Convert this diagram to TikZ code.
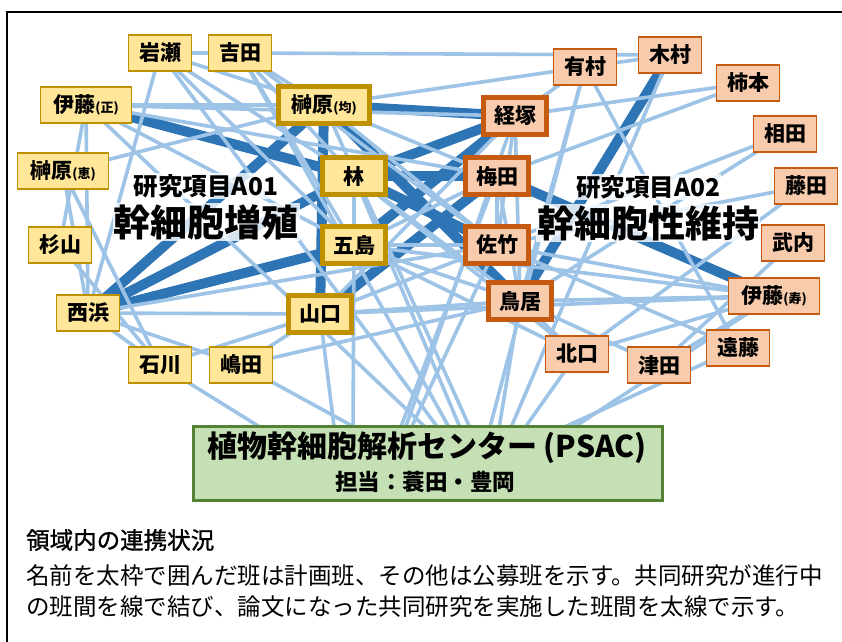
\documentclass[tikz,border=0pt]{standalone}
\usepackage{fontspec}
\newfontfamily\jp{Noto Sans CJK JP}
\newfontfamily\jpfake{Noto Sans CJK JP}[FakeBold=1.2]
\usetikzlibrary{calc}
\pgfdeclarelayer{edges}
\pgfdeclarelayer{halo}
\pgfsetlayers{edges,halo,main}
\definecolor{yfill}{HTML}{FFE699}
\definecolor{ydraw}{HTML}{BF9000}
\definecolor{ofill}{HTML}{F8CBAD}
\definecolor{odraw}{HTML}{C55A11}
\definecolor{gfill}{HTML}{C5E0B4}
\definecolor{gdraw}{HTML}{548235}
\definecolor{thinc}{HTML}{9DC3E6}
\definecolor{thickc}{HTML}{2E75B6}
\tikzset{
  box/.style={line width=1.8pt, minimum width=63pt, minimum height=36pt, inner sep=0pt,
    font=\jp\bfseries\fontsize{21}{21}\selectfont},
  aone/.style={box, draw=ydraw, fill=yfill},
  atwo/.style={box, draw=odraw, fill=ofill},
  plan/.style={line width=5pt, minimum width=63pt, minimum height=37pt},
  wide/.style={minimum width=91pt},
  thinedge/.style={draw=thinc, line width=3.6pt},
  thickedge/.style={draw=thickc, line width=10pt},
  lab/.style={fill=white, fill opacity=0.8, text opacity=1, inner sep=1pt}
}
\newcommand{\paren}[1]{{\fontsize{13}{13}\selectfont(#1)}}
\begin{document}
\begin{tikzpicture}[x=1pt,y=-1pt]
\useasboundingbox (0,0) rectangle (842,641);
\clip (0,0) rectangle (842,641);
\draw[line width=2.6pt] (7,700) -- (7,12) -- (900,12);

% A01 nodes
\node[aone] (iw) at (160,53) {岩瀬};
\node[aone] (yo) at (240,53) {吉田};
\node[aone,wide] (itm) at (86,105) {伊藤\paren{正}};
\node[aone,plan,wide] (skh) at (324,105) {榊原\paren{均}};
\node[aone,wide] (ske) at (63,171) {榊原\paren{恵}};
\node[aone,plan] (hy) at (354,176) {林};
\node[aone] (sg) at (60,245) {杉山};
\node[aone,plan] (gt) at (354,245) {五島};
\node[aone] (nh) at (88,313) {西浜};
\node[aone,plan] (ym) at (320,314) {山口};
\node[aone] (ik) at (160,365) {石川};
\node[aone] (sm) at (241,365) {嶋田};

% A02 nodes
\node[atwo] (ar) at (585,67) {有村};
\node[atwo] (km) at (670,55) {木村};
\node[atwo] (kk) at (748,83) {柿本};
\node[atwo,plan] (kt) at (515,116) {経塚};
\node[atwo] (ai) at (785,134) {相田};
\node[atwo,plan] (um) at (497,176) {梅田};
\node[atwo] (fj) at (806,186) {藤田};
\node[atwo,plan] (st) at (497,245) {佐竹};
\node[atwo] (tk) at (793,243) {武内};
\node[atwo,plan] (tr) at (520,301) {鳥居};
\node[atwo,wide] (itj) at (774,296) {伊藤\paren{寿}};
\node[atwo] (kg) at (577,354) {北口};
\node[atwo] (td) at (659,365) {津田};
\node[atwo] (en) at (738,348) {遠藤};

% PSAC
\node[draw=gdraw, fill=gfill, line width=3pt, minimum width=469pt, minimum height=74pt] (ps) at (428,463) {};
\node[font=\jp\bfseries\fontsize{30}{30}\selectfont, inner sep=0pt] (pst) at (427,448) {植物幹細胞解析センター (PSAC)};
\node[font=\jp\bfseries\fontsize{22.5}{22.5}\selectfont, inner sep=0pt] (pss) at (425,482) {担当：蓑田・豊岡};

% labels
\begin{pgfonlayer}{halo}
\node[lab, font=\jp\bfseries\fontsize{24.5}{24.5}\selectfont] (la1) at (206,186) {研究項目A01};
\node[lab, font=\jp\bfseries\fontsize{37}{37}\selectfont] (lb1) at (206,222) {幹細胞増殖};
\node[lab, font=\jp\bfseries\fontsize{24.5}{24.5}\selectfont] (la2) at (648,187) {研究項目A02};
\node[lab, font=\jp\bfseries\fontsize{37}{37}\selectfont] (lb2) at (648,223) {幹細胞性維持};
\end{pgfonlayer}

% edges
\begin{pgfonlayer}{edges}
\foreach \a/\b in {itm/hy, nh/skh, nh/hy, nh/gt, skh/kt, skh/ym, skh/tr, hy/kt, gt/kt, ym/um, hy/um, um/itj, km/tr, hy/st}
  \draw[thickedge] (\a.center) -- (\b.center);
\foreach \a/\b in {iw/yo, iw/skh, iw/hy, iw/gt, iw/nh,
  yo/km, yo/hy, yo/gt, yo/skh, yo/st,
  itm/skh, itm/kt, itm/nh, itm/gt, itm/um, itm/sg,
  ske/nh, ske/ik, ske/skh, sg/ik,
  nh/ym, nh/ik, nh/sm, nh/st,
  ik/ym, sm/tr, sm/ym,
  skh/ar, skh/um, skh/st,
  hy/gt, hy/tr, hy/kg,
  gt/um, gt/st, gt/tr, gt/itj, gt/kg,
  ym/tr, ym/st, ym/kt, ym/itj,
  kt/ar, kt/kk, kt/tr, kt/st,
  um/kk, um/st, um/tr,
  st/itj, st/ai, st/en,
  tr/itj, tr/kg, tr/td, tr/ar, tr/ai,
  ar/en, ar/km, fj/kg, fj/st, tk/td,
  itj/kg, itj/td}
  \draw[thinedge] (\a.center) -- (\b.center);
\foreach \a/\d in {ik/-156, ym/-93, gt/-75, sm/-60, itm/5, iw/15, yo/25, hy/35, skh/45,
  kt/-25, um/-30, st/-20, ar/60, tr/70, km/80, kg/92, en/120, itj/135}
  \draw[thinedge] (\a.center) -- ($(ps.north)+(\d,10)$);
\end{pgfonlayer}

% caption
\node[anchor=west, inner sep=0pt, font=\jpfake\fontsize{23.5}{24}\selectfont] (cap0) at (26,540) {領域内の連携状況};
\node[anchor=west, inner sep=0pt, font=\jp\fontsize{23.5}{24}\selectfont] (cap1) at (26,576) {名前を太枠で囲んだ班は計画班、その他は公募班を示す。共同研究が進行中};
\node[anchor=west, inner sep=0pt, font=\jp\fontsize{23.5}{24}\selectfont] (cap2) at (26,607) {の班間を線で結び、論文になった共同研究を実施した班間を太線で示す。};
\end{tikzpicture}
\end{document}
